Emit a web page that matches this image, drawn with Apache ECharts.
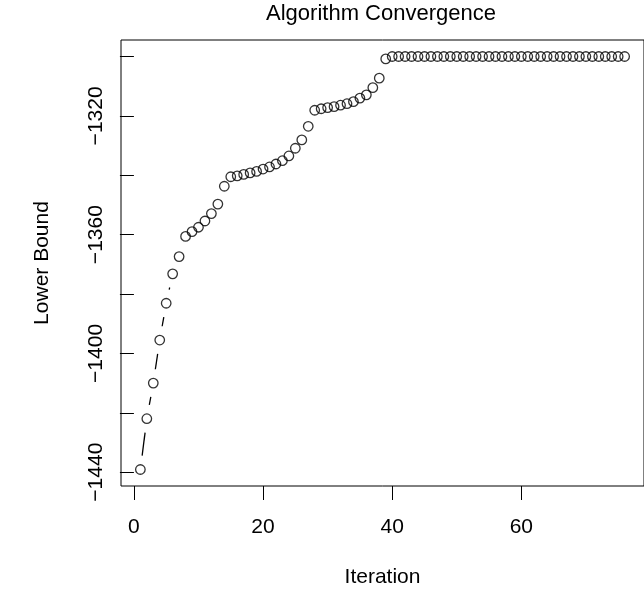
<!DOCTYPE html>
<html>
<head>
<meta charset="utf-8">
<script src="https://cdn.jsdelivr.net/npm/echarts@6/dist/echarts.min.js"></script>
<style>
  html, body { margin: 0; padding: 0; background: #fff; }
  #chart { width: 644px; height: 597px; }
</style>
</head>
<body>
<div id="chart"></div>
<script>
// iteration numbers and the lower bound at each one
var iterations = [1, 2, 3, 4, 5, 6, 7, 8, 9, 10, 11, 12, 13, 14, 15, 16, 17, 18, 19, 20,
    21, 22, 23, 24, 25, 26, 27, 28, 29, 30, 31, 32, 33, 34, 35, 36, 37, 38, 39, 40,
    41, 42, 43, 44, 45, 46, 47, 48, 49, 50, 51, 52, 53, 54, 55, 56, 57, 58, 59, 60,
    61, 62, 63, 64, 65, 66, 67, 68, 69, 70, 71, 72, 73, 74, 75, 76];
var lowerBound = [-1439.1, -1422.0, -1410.0, -1395.5, -1383.1, -1373.2, -1367.4, -1360.6, -1359.0, -1357.5,
    -1355.4, -1352.9, -1349.7, -1343.7, -1340.5, -1340.2, -1339.7, -1339.2, -1338.7, -1337.9,
    -1337.2, -1336.2, -1335.1, -1333.5, -1330.9, -1328.1, -1323.5, -1318.1, -1317.6, -1317.2,
    -1316.9, -1316.4, -1315.9, -1315.2, -1314.0, -1312.9, -1310.5, -1307.3, -1300.8, -1300.0,
    -1300.0, -1300.0, -1300.0, -1300.0, -1300.0, -1300.0, -1300.0, -1300.0, -1300.0, -1300.0,
    -1300.0, -1300.0, -1300.0, -1300.0, -1300.0, -1300.0, -1300.0, -1300.0, -1300.0, -1300.0,
    -1300.0, -1300.0, -1300.0, -1300.0, -1300.0, -1300.0, -1300.0, -1300.0, -1300.0, -1300.0,
    -1300.0, -1300.0, -1300.0, -1300.0, -1300.0, -1300.0];

var xTicks = [0, 20, 40, 60];
var yTicks = [-1440, -1420, -1400, -1380, -1360, -1340, -1320, -1300];
var yLabels = [-1440, -1400, -1360, -1320];

var FONT = 'Liberation Sans';
var GAP = 14; // gap around points on the connecting line, like type="b"

// axis ranges padded 4% like R does
function padRange(arr) {
    var lo = Math.min.apply(null, arr), hi = Math.max.apply(null, arr);
    var d = (hi - lo) * 0.04;
    return [lo - d, hi + d];
}
var xr = padRange(iterations);
var yr = padRange(lowerBound);

var points = [];
for (var i = 0; i < iterations.length; i++) {
    points.push([iterations[i], lowerBound[i]]);
}

var chart = echarts.init(document.getElementById('chart'), null, {renderer: 'canvas'});

var option = {
    animation: false,
    backgroundColor: '#fff',
    title: {
        text: 'Algorithm Convergence',
        left: 376,
        top: -2,
        textAlign: 'center',
        textStyle: {fontFamily: FONT, fontSize: 22, fontWeight: 'normal', color: '#000'}
    },
    grid: {
        left: 121,
        top: 40,
        right: -8,
        bottom: 111,
        show: true,
        borderColor: '#000',
        borderWidth: 1,
        backgroundColor: 'transparent'
    },
    xAxis: {
        type: 'value',
        min: xr[0],
        max: xr[1],
        name: 'Iteration',
        nameLocation: 'middle',
        nameGap: 81,
        nameTextStyle: {fontFamily: FONT, fontSize: 21, color: '#000'},
        splitLine: {show: false},
        axisLine: {show: false},
        axisTick: {show: true, length: 14, customValues: xTicks, lineStyle: {color: '#000', width: 1}},
        axisLabel: {customValues: xTicks, margin: 31, fontFamily: FONT, fontSize: 21, color: '#000'}
    },
    yAxis: {
        type: 'value',
        min: yr[0],
        max: yr[1],
        name: 'Lower Bound',
        nameLocation: 'middle',
        nameGap: 68,
        nameRotate: 90,
        nameTextStyle: {fontFamily: FONT, fontSize: 21, color: '#000'},
        splitLine: {show: false},
        axisLine: {show: false},
        axisTick: {show: true, length: 14, customValues: yTicks, lineStyle: {color: '#000', width: 1}},
        axisLabel: {
            customValues: yLabels,
            rotate: 90,
            margin: 14,
            fontFamily: FONT,
            fontSize: 21,
            color: '#000',
            formatter: function (v) { return String(v).replace('-', '\u2212'); }
        }
    },
    series: [
        {
            type: 'custom',
            silent: true,
            data: points,
            encode: {x: 0, y: 1},
            renderItem: function (params, api) {
                var k = params.dataIndex;
                if (k >= points.length - 1) return null;
                var p0 = api.coord(points[k]);
                var p1 = api.coord(points[k + 1]);
                var dx = p1[0] - p0[0], dy = p1[1] - p0[1];
                var d = Math.sqrt(dx * dx + dy * dy);
                if (d <= 2 * GAP) return null;
                var ux = dx / d, uy = dy / d;
                return {
                    type: 'line',
                    shape: {
                        x1: p0[0] + ux * GAP, y1: p0[1] + uy * GAP,
                        x2: p1[0] - ux * GAP, y2: p1[1] - uy * GAP
                    },
                    style: {stroke: '#000', lineWidth: 1.3}
                };
            }
        },
        {
            type: 'scatter',
            silent: true,
            data: points,
            symbol: 'circle',
            symbolSize: 9.5,
            itemStyle: {color: 'rgba(0,0,0,0)', borderColor: '#000', borderWidth: 1.3},
            emphasis: {disabled: true}
        }
    ]
};
chart.setOption(option);
</script>
</body>
</html>
